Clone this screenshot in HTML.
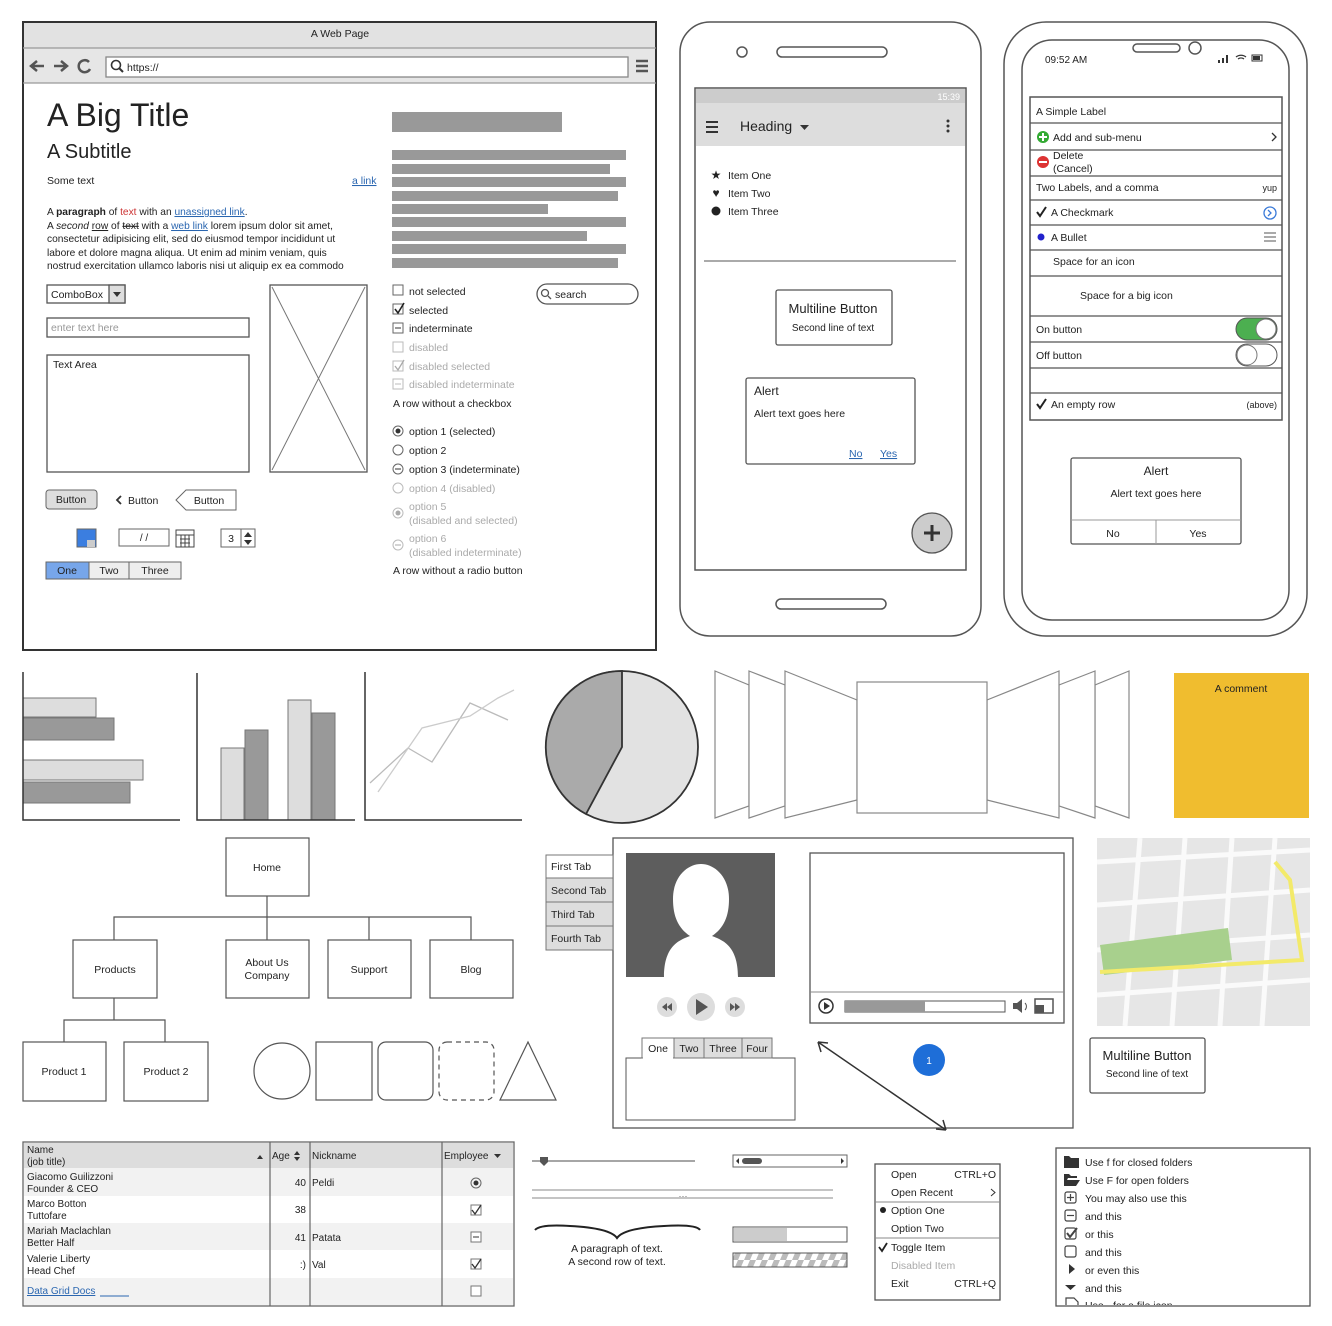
<!DOCTYPE html>
<html><head><meta charset="utf-8"><style>
html,body{margin:0;padding:0;background:#fff}
svg{display:block}
text{font-family:"Liberation Sans",sans-serif;fill:#222}
</style></head><body>
<svg width="1332" height="1326" viewBox="0 0 1332 1326" xmlns="http://www.w3.org/2000/svg" font-size="11">
<defs><clipPath id="tc"><rect x="1057" y="1149" width="252" height="156"/></clipPath>
<pattern id="st" width="12" height="14" patternUnits="userSpaceOnUse"><rect width="12" height="14" fill="#fff"/><path d="M0 14 L6 0 L12 0 L6 14Z" fill="#bbb"/></pattern></defs>
<g fill="none" stroke="#444" stroke-width="1.3">
<rect x="23" y="22" width="633" height="628" fill="#fff" stroke="#333" stroke-width="2"/>
<rect x="24" y="23" width="631" height="25" fill="#e2e2e2" stroke="none"/>
<rect x="24" y="48" width="631" height="35" fill="#e6e6e6" stroke="none"/>
<line x1="23" y1="48" x2="656" y2="48" stroke="#999"/>
<line x1="23" y1="83" x2="656" y2="83" stroke="#999"/>
<rect x="106" y="57" width="522" height="20" fill="#fff" stroke="#888"/>
<circle cx="116" cy="65" r="4.5" stroke="#333" stroke-width="1.6"/><line x1="119" y1="68" x2="123" y2="72" stroke="#333" stroke-width="2"/>
<path d="M44 66 H32 M37 61 L31 66 L37 71" stroke="#555" stroke-width="2.5"/>
<path d="M54 66 H66 M61 61 L67 66 L61 71" stroke="#555" stroke-width="2.5"/>
<path d="M89 62 A6 6 0 1 0 90 69" stroke="#555" stroke-width="2.5"/>
<path d="M636 61 H648 M636 66 H648 M636 71 H648" stroke="#555" stroke-width="2.5"/>
</g>
<text x="340" y="37" text-anchor="middle" font-size="10.5">A Web Page</text>
<text x="127" y="71" font-size="10.5">https://</text>
<text x="47" y="126" font-size="32">A Big Title</text>
<text x="47" y="158" font-size="20">A Subtitle</text>
<text x="47" y="184" font-size="10.5">Some text</text>
<text x="352" y="184" font-size="10.5" text-decoration="underline" style="fill:#2a66b0">a link</text>
<g font-size="10.2">
<text x="47" y="215">A <tspan font-weight="bold">paragraph</tspan> of <tspan style="fill:#c33">text</tspan> with an <tspan style="fill:#2a66b0" text-decoration="underline">unassigned link</tspan>.</text>
<text x="47" y="229">A <tspan font-style="italic">second</tspan> <tspan text-decoration="underline">row</tspan> of <tspan text-decoration="line-through">text</tspan> with a <tspan style="fill:#2a66b0" text-decoration="underline">web link</tspan> lorem ipsum dolor sit amet,</text>
<text x="47" y="242">consectetur adipisicing elit, sed do eiusmod tempor incididunt ut</text>
<text x="47" y="256">labore et dolore magna aliqua. Ut enim ad minim veniam, quis</text>
<text x="47" y="269">nostrud exercitation ullamco laboris nisi ut aliquip ex ea commodo</text>
</g>
<g fill="#999">
<rect x="392" y="112" width="170" height="20"/>
<rect x="392" y="150" width="234" height="10"/><rect x="392" y="164" width="218" height="10"/>
<rect x="392" y="177" width="234" height="10"/><rect x="392" y="191" width="226" height="10"/>
<rect x="392" y="204" width="156" height="10"/><rect x="392" y="217" width="234" height="10"/>
<rect x="392" y="231" width="195" height="10"/><rect x="392" y="244" width="234" height="10"/>
<rect x="392" y="258" width="226" height="10"/>
</g>
<g fill="none" stroke="#555" stroke-width="1.3">
<rect x="47" y="285" width="78" height="18" fill="#fff"/><rect x="109" y="285" width="16" height="18" fill="#ddd"/>
<rect x="47" y="318" width="202" height="19"/>
<rect x="47" y="355" width="202" height="117"/>
<rect x="270" y="285" width="97" height="187"/>
<path d="M272 287 L365 470 M365 287 L272 470" stroke="#777" stroke-width="1"/>
<rect x="537" y="284" width="101" height="20" rx="10"/>
<circle cx="545" cy="293" r="3.5"/><line x1="548" y1="296" x2="551" y2="299"/>
</g>
<path d="M113 292 h8 l-4 5z" fill="#333"/>
<text x="51" y="298" font-size="10.5">ComboBox</text>
<text x="51" y="331" font-size="10.5" style="fill:#999">enter text here</text>
<text x="53" y="368" font-size="10.5">Text Area</text>
<text x="555" y="298" font-size="10.5">search</text>
<g fill="#fff" stroke="#666" stroke-width="1">
<rect x="393" y="285" width="10" height="10"/><rect x="393" y="304" width="10" height="10"/><rect x="393" y="323" width="10" height="10"/>
<rect x="393" y="342" width="10" height="10" stroke="#bbb"/><rect x="393" y="361" width="10" height="10" stroke="#bbb"/><rect x="393" y="379" width="10" height="10" stroke="#bbb"/>
</g>
<path d="M395 309 l3 4 l6 -10" fill="none" stroke="#222" stroke-width="1.6"/>
<path d="M395 366 l3 4 l6 -10" fill="none" stroke="#aaa" stroke-width="1.3"/>
<line x1="395" y1="328" x2="401" y2="328" stroke="#333"/><line x1="395" y1="384" x2="401" y2="384" stroke="#bbb"/>
<g font-size="10.5">
<text x="409" y="295">not selected</text><text x="409" y="314">selected</text><text x="409" y="332">indeterminate</text>
<text x="409" y="351" style="fill:#aaa">disabled</text><text x="409" y="370" style="fill:#aaa">disabled selected</text><text x="409" y="388" style="fill:#aaa">disabled indeterminate</text>
<text x="393" y="407">A row without a checkbox</text>
<text x="409" y="435">option 1 (selected)</text><text x="409" y="454">option 2</text><text x="409" y="473">option 3 (indeterminate)</text>
<text x="409" y="492" style="fill:#aaa">option 4 (disabled)</text>
<text x="409" y="510" style="fill:#aaa">option 5</text><text x="409" y="524" style="fill:#aaa">(disabled and selected)</text>
<text x="409" y="542" style="fill:#aaa">option 6</text><text x="409" y="556" style="fill:#aaa">(disabled indeterminate)</text>
<text x="393" y="574">A row without a radio button</text>
</g>
<g fill="#fff" stroke="#666">
<circle cx="398" cy="431" r="5"/><circle cx="398" cy="450" r="5"/><circle cx="398" cy="469" r="5"/>
<circle cx="398" cy="488" r="5" stroke="#bbb"/><circle cx="398" cy="513" r="5" stroke="#bbb"/><circle cx="398" cy="545" r="5" stroke="#bbb"/>
</g>
<circle cx="398" cy="431" r="2.5" fill="#333"/><circle cx="398" cy="513" r="2.5" fill="#aaa"/>
<line x1="395" y1="469" x2="401" y2="469" stroke="#333"/><line x1="395" y1="545" x2="401" y2="545" stroke="#aaa"/>
<rect x="46" y="490" width="51" height="19" rx="3" fill="#ddd" stroke="#666"/>
<text x="71" y="503" text-anchor="middle" font-size="10.5">Button</text>
<path d="M121 496 l-4 4 l4 4" fill="none" stroke="#333" stroke-width="1.8"/>
<text x="128" y="504" font-size="10.5">Button</text>
<path d="M186 490 H236 V510 H186 L176 500 Z" fill="#fff" stroke="#666"/>
<text x="209" y="504" text-anchor="middle" font-size="10.5">Button</text>
<rect x="77" y="529" width="19" height="18" fill="#3b7ee0" stroke="#666"/><path d="M87 540 h8 v7 h-8z" fill="#ccc"/>
<rect x="119" y="529" width="50" height="17" fill="#fff" stroke="#666"/><text x="144" y="541" text-anchor="middle" font-size="10">/ /</text>
<g stroke="#444" fill="none"><rect x="176" y="530" width="18" height="17"/><path d="M176 535 h18 M180 539 h10 M180 543 h10 M181 535 v12 M185 535 v12 M189 535 v12"/></g>
<rect x="221" y="529" width="34" height="18" fill="#fff" stroke="#666"/><line x1="241" y1="529" x2="241" y2="547" stroke="#666"/>
<text x="231" y="542" text-anchor="middle" font-size="10.5">3</text><path d="M244 537 l4 -5 l4 5z M244 540 l4 5 l4 -5z" fill="#333"/>
<rect x="46" y="562" width="135" height="17" fill="#eee" stroke="#666"/>
<rect x="46" y="562" width="43" height="17" fill="#77a6ea" stroke="#666"/>
<line x1="129" y1="562" x2="129" y2="579" stroke="#666"/>
<text x="67" y="574" text-anchor="middle" font-size="10.5">One</text><text x="109" y="574" text-anchor="middle" font-size="10.5">Two</text><text x="155" y="574" text-anchor="middle" font-size="10.5">Three</text>

<g fill="none" stroke="#555" stroke-width="1.5">
<rect x="680" y="22" width="301" height="614" rx="30" fill="#fff"/>
<circle cx="742" cy="52" r="5"/><rect x="777" y="47" width="110" height="10" rx="5"/>
<rect x="695" y="88" width="271" height="482"/>
<rect x="776" y="599" width="110" height="10" rx="5"/>
</g>
<rect x="696" y="89" width="269" height="14" fill="#ccc"/>
<text x="960" y="100" text-anchor="end" font-size="9" style="fill:#fff">15:39</text>
<rect x="696" y="103" width="269" height="43" fill="#ddd"/>
<path d="M706 122 h12 M706 127 h12 M706 132 h12" stroke="#333" stroke-width="2"/>
<text x="740" y="131" font-size="14">Heading</text><path d="M800 125 h9 l-4.5 5z" fill="#333"/>
<circle cx="948" cy="121" r="1.5" fill="#333"/><circle cx="948" cy="126" r="1.5" fill="#333"/><circle cx="948" cy="131" r="1.5" fill="#333"/>
<text x="716" y="179" text-anchor="middle" font-size="12">★</text>
<text x="716" y="197" text-anchor="middle" font-size="12">♥</text>
<circle cx="716" cy="211" r="4.5" fill="#222"/>
<text x="728" y="179" font-size="10.5">Item One</text><text x="728" y="197" font-size="10.5">Item Two</text><text x="728" y="215" font-size="10.5">Item Three</text>
<line x1="704" y1="261" x2="956" y2="261" stroke="#555"/>
<rect x="776" y="290" width="116" height="55" rx="2" fill="#fff" stroke="#555" stroke-width="1.3"/>
<text x="833" y="313" text-anchor="middle" font-size="13">Multiline Button</text>
<text x="833" y="331" text-anchor="middle" font-size="10">Second line of text</text>
<rect x="746" y="378" width="169" height="86" rx="2" fill="#fff" stroke="#555" stroke-width="1.3"/>
<text x="754" y="395" font-size="12">Alert</text><text x="754" y="417" font-size="10.5">Alert text goes here</text>
<text x="849" y="457" font-size="10.5" style="fill:#2a66b0" text-decoration="underline">No</text>
<text x="880" y="457" font-size="10.5" style="fill:#2a66b0" text-decoration="underline">Yes</text>
<circle cx="932" cy="533" r="20" fill="#ccc" stroke="#555" stroke-width="1.3"/>
<path d="M932 525 v16 M924 533 h16" stroke="#333" stroke-width="3"/>

<g fill="none" stroke="#555" stroke-width="1.5">
<rect x="1004" y="22" width="303" height="614" rx="42" fill="#fff"/>
<rect x="1022" y="40" width="267" height="580" rx="30"/>
<rect x="1133" y="44" width="47" height="8" rx="4"/><circle cx="1195" cy="48" r="6"/>
<rect x="1030" y="97" width="252" height="323"/>
</g>
<text x="1045" y="63" font-size="10">09:52 AM</text>
<path d="M1218 63 h2 v-3 h-2z M1222 63 h2 v-5 h-2z M1226 63 h2 v-8 h-2z" fill="#333"/>
<rect x="1252" y="55" width="10" height="6" fill="none" stroke="#333"/><rect x="1253" y="56" width="7" height="4" fill="#333"/>
<path d="M1236 57 a8 8 0 0 1 10 0 M1238 59 a5 5 0 0 1 6 0" fill="none" stroke="#333" stroke-width="1.3"/>
<g stroke="#555" stroke-width="1.2">
<line x1="1030" y1="123" x2="1282" y2="123"/><line x1="1030" y1="150" x2="1282" y2="150"/><line x1="1030" y1="176" x2="1282" y2="176"/>
<line x1="1030" y1="200" x2="1282" y2="200"/><line x1="1030" y1="225" x2="1282" y2="225"/><line x1="1030" y1="250" x2="1282" y2="250"/>
<line x1="1030" y1="276" x2="1282" y2="276"/><line x1="1030" y1="316" x2="1282" y2="316"/><line x1="1030" y1="342" x2="1282" y2="342"/>
<line x1="1030" y1="368" x2="1282" y2="368"/><line x1="1030" y1="393" x2="1282" y2="393"/>
</g>
<g font-size="10.5">
<text x="1036" y="115">A Simple Label</text>
<circle cx="1043" cy="137" r="6" fill="#3a3"/><path d="M1043 133 v8 M1039 137 h8" stroke="#fff" stroke-width="2"/>
<text x="1053" y="141">Add and sub-menu</text><path d="M1272 133 l4 4 l-4 4" fill="none" stroke="#333" stroke-width="1.3"/>
<circle cx="1043" cy="162" r="6" fill="#d33"/><path d="M1039 162 h8" stroke="#fff" stroke-width="2"/>
<text x="1053" y="159">Delete</text><text x="1053" y="172">(Cancel)</text>
<text x="1036" y="191">Two Labels, and a comma</text><text x="1277" y="191" text-anchor="end" font-size="9">yup</text>
<path d="M1037 212 l3 4 l6 -9" fill="none" stroke="#222" stroke-width="2"/><text x="1051" y="216">A Checkmark</text>
<circle cx="1270" cy="213" r="6" fill="none" stroke="#3a7ad8" stroke-width="1.3"/><path d="M1268 210 l3 3 l-3 3" fill="none" stroke="#3a7ad8" stroke-width="1.3"/>
<circle cx="1041" cy="237" r="3.5" fill="#22c"/><text x="1051" y="241">A Bullet</text>
<path d="M1264 233 h12 M1264 237 h12 M1264 241 h12" stroke="#777" stroke-width="1.3"/>
<text x="1053" y="265">Space for an icon</text>
<text x="1080" y="299">Space for a big icon</text>
<text x="1036" y="333">On button</text><text x="1036" y="359">Off button</text>
<path d="M1037 404 l3 4 l6 -9" fill="none" stroke="#222" stroke-width="2"/><text x="1051" y="408">An empty row</text>
<text x="1277" y="408" text-anchor="end" font-size="9">(above)</text>
</g>
<rect x="1236" y="318" width="41" height="22" rx="11" fill="#4caf50" stroke="#555"/><circle cx="1266" cy="329" r="10" fill="#fff" stroke="#777"/>
<rect x="1236" y="344" width="41" height="22" rx="11" fill="#fff" stroke="#555"/><circle cx="1247" cy="355" r="10" fill="#fff" stroke="#777"/>
<rect x="1071" y="458" width="170" height="86" rx="2" fill="#fff" stroke="#555" stroke-width="1.3"/>
<line x1="1071" y1="520" x2="1241" y2="520" stroke="#999"/><line x1="1156" y1="520" x2="1156" y2="544" stroke="#999"/>
<text x="1156" y="475" text-anchor="middle" font-size="12">Alert</text>
<text x="1156" y="497" text-anchor="middle" font-size="10.5">Alert text goes here</text>
<text x="1113" y="537" text-anchor="middle" font-size="10.5">No</text><text x="1198" y="537" text-anchor="middle" font-size="10.5">Yes</text>

<rect x="23" y="698" width="73" height="19" fill="#ddd" stroke="#777"/>
<rect x="23" y="718" width="91" height="22" fill="#999" stroke="#777"/>
<rect x="23" y="760" width="120" height="20" fill="#ddd" stroke="#777"/>
<rect x="23" y="782" width="107" height="21" fill="#999" stroke="#777"/>
<path d="M23 672 V820 H180" fill="none" stroke="#333" stroke-width="1.5"/>
<rect x="221" y="748" width="23" height="72" fill="#ddd" stroke="#777"/>
<rect x="245" y="730" width="23" height="90" fill="#999" stroke="#777"/>
<rect x="288" y="700" width="23" height="120" fill="#ddd" stroke="#777"/>
<rect x="312" y="713" width="23" height="107" fill="#999" stroke="#777"/>
<path d="M197 673 V820 H355" fill="none" stroke="#333" stroke-width="1.5"/>
<polyline points="370,783 408,748 432,762 470,703 508,720" fill="none" stroke="#bbb" stroke-width="1.3"/>
<polyline points="378,792 422,728 470,716 498,698 514,690" fill="none" stroke="#ccc" stroke-width="1.3"/>
<path d="M365 672 V820 H522" fill="none" stroke="#333" stroke-width="1.5"/>
<circle cx="622" cy="747" r="76" fill="#e2e2e2" stroke="#333" stroke-width="1.8"/>
<path d="M622 747 L622 671 A76 76 0 0 0 586 814 Z" fill="#aaa" stroke="#333" stroke-width="1.8"/>
<g fill="#fff" stroke="#888" stroke-width="1.2">
<polygon points="715,671 749,685 749,806 715,818"/>
<polygon points="749,671 785,685 785,806 749,818"/>
<polygon points="785,671 857,700 857,800 785,818"/>
<polygon points="1129,671 1095,685 1095,806 1129,818"/>
<polygon points="1095,671 1059,685 1059,806 1095,818"/>
<polygon points="1059,671 987,700 987,800 1059,818"/>
<rect x="857" y="682" width="130" height="131"/>
</g>
<rect x="1174" y="673" width="135" height="145" fill="#f0bd2f"/>
<text x="1241" y="692" text-anchor="middle" font-size="10.5">A comment</text>

<g fill="none" stroke="#555" stroke-width="1.2">
<path d="M267 896 V917 M114 940 V917 H471 V940 M267 917 V940 M369 917 V940 M114 998 V1020 M64 1042 V1020 H165 V1042"/>
<rect x="226" y="838" width="83" height="58" fill="#fff"/>
<rect x="73" y="940" width="84" height="58" fill="#fff"/><rect x="226" y="940" width="83" height="58" fill="#fff"/>
<rect x="328" y="940" width="83" height="58" fill="#fff"/><rect x="430" y="940" width="83" height="58" fill="#fff"/>
<rect x="23" y="1042" width="83" height="59" fill="#fff"/><rect x="124" y="1042" width="84" height="59" fill="#fff"/>
<circle cx="282" cy="1071" r="28"/><rect x="316" y="1042" width="56" height="58"/>
<rect x="378" y="1042" width="55" height="58" rx="8"/><rect x="439" y="1042" width="55" height="58" rx="8" stroke-dasharray="5 4"/>
<polygon points="528,1042 500,1100 556,1100"/>
</g>
<g font-size="10.5" text-anchor="middle">
<text x="267" y="871">Home</text><text x="115" y="973">Products</text>
<text x="267" y="966">About Us</text><text x="267" y="979">Company</text>
<text x="369" y="973">Support</text><text x="471" y="973">Blog</text>
<text x="64" y="1075">Product 1</text><text x="166" y="1075">Product 2</text>
</g>

<rect x="613" y="838" width="460" height="290" fill="#fff" stroke="#555" stroke-width="1.3"/>
<g stroke="#777" stroke-width="1">
<rect x="546" y="855" width="67" height="23" fill="#fff"/>
<rect x="546" y="878" width="67" height="24" fill="#ddd"/><rect x="546" y="902" width="67" height="24" fill="#ddd"/><rect x="546" y="926" width="67" height="24" fill="#ddd"/>
</g>
<g font-size="10.5"><text x="551" y="870">First Tab</text><text x="551" y="894">Second Tab</text><text x="551" y="918">Third Tab</text><text x="551" y="942">Fourth Tab</text></g>
<rect x="626" y="853" width="149" height="124" fill="#5d5d5d"/>
<path d="M664 977 C664 945 680 940 690 936 C678 928 673 916 673 899 C673 876 688 864 701 864 C714 864 729 876 729 899 C729 916 724 928 712 936 C722 940 738 945 738 977Z" fill="#fff"/>
<circle cx="667" cy="1007" r="10" fill="#ddd"/><circle cx="701" cy="1007" r="14" fill="#ddd"/><circle cx="735" cy="1007" r="10" fill="#ddd"/>
<path d="M696 999 v16 l12 -8z" fill="#555"/>
<path d="M667 1003 l-5 4 l5 4z M672 1003 l-5 4 l5 4z M735 1003 l5 4 l-5 4z M730 1003 l5 4 l-5 4z" fill="#555"/>
<rect x="810" y="853" width="254" height="170" fill="#fff" stroke="#555" stroke-width="1.3"/>
<line x1="810" y1="992" x2="1064" y2="992" stroke="#888"/>
<circle cx="826" cy="1006" r="7" fill="#fff" stroke="#333" stroke-width="1.5"/><path d="M824 1002 v8 l6 -4z" fill="#333"/>
<rect x="845" y="1001" width="160" height="11" fill="#fff" stroke="#555"/><rect x="845" y="1001" width="80" height="11" fill="#999"/>
<path d="M1013 1003 h4 l5 -4 v14 l-5 -4 h-4z" fill="#555"/><path d="M1025 1003 a5 5 0 0 1 0 7" fill="none" stroke="#555"/>
<rect x="1035" y="999" width="18" height="14" fill="#fff" stroke="#555" stroke-width="1.5"/><rect x="1035" y="1005" width="9" height="8" fill="#555"/>
<rect x="626" y="1058" width="169" height="62" fill="#fff" stroke="#555"/>
<g stroke="#777"><rect x="642" y="1038" width="32" height="20" fill="#fff"/><rect x="674" y="1038" width="30" height="20" fill="#ddd"/><rect x="704" y="1038" width="38" height="20" fill="#ddd"/><rect x="742" y="1038" width="30" height="20" fill="#ddd"/></g>
<line x1="643" y1="1058" x2="673" y2="1058" stroke="#fff" stroke-width="2"/>
<g font-size="10.5" text-anchor="middle"><text x="658" y="1052">One</text><text x="689" y="1052">Two</text><text x="723" y="1052">Three</text><text x="757" y="1052">Four</text></g>
<path d="M818 1042 L946 1130 M818 1042 l3 10 M818 1042 l10 1 M946 1130 l-10 -1 M946 1130 l-3 -10" stroke="#333" stroke-width="1.5" fill="none"/>
<circle cx="929" cy="1060" r="16" fill="#1e6ed8"/><text x="929" y="1064" text-anchor="middle" font-size="10" style="fill:#fff">1</text>
<rect x="1097" y="838" width="213" height="188" fill="#e6e6e6"/>
<g stroke="#fafafa" stroke-width="5" fill="none">
<path d="M1097 862 L1310 850 M1097 905 L1310 890 M1097 950 L1310 935 M1097 995 L1310 980 M1140 838 L1125 1026 M1185 838 L1172 1026 M1232 838 L1220 1026 M1275 838 L1262 1026"/>
</g>
<path d="M1100 945 L1228 928 L1232 960 L1104 975Z" fill="#a8d08d"/>
<path d="M1275 862 L1290 880 L1302 960 L1100 972" stroke="#f3ea6a" stroke-width="4" fill="none"/>
<rect x="1090" y="1038" width="115" height="55" rx="2" fill="#fff" stroke="#555" stroke-width="1.3"/>
<text x="1147" y="1060" text-anchor="middle" font-size="13">Multiline Button</text>
<text x="1147" y="1077" text-anchor="middle" font-size="10">Second line of text</text>

<rect x="23" y="1142" width="491" height="164" fill="#fff" stroke="#666" stroke-width="1.3"/>
<rect x="24" y="1143" width="489" height="25" fill="#ddd"/>
<rect x="24" y="1168" width="489" height="28" fill="#f2f2f2"/><rect x="24" y="1223" width="489" height="27" fill="#f2f2f2"/><rect x="24" y="1278" width="489" height="27" fill="#f2f2f2"/>
<g stroke="#666" stroke-width="1.2"><line x1="270" y1="1142" x2="270" y2="1306"/><line x1="310" y1="1142" x2="310" y2="1306"/><line x1="442" y1="1142" x2="442" y2="1306"/></g>
<g font-size="10">
<text x="27" y="1153">Name</text><text x="27" y="1165">(job title)</text><path d="M257 1159 l3 -4 l3 4z" fill="#333"/>
<text x="272" y="1159">Age</text><path d="M294 1155 l3 -4 l3 4z M294 1157 l3 4 l3 -4z" fill="#333"/>
<text x="312" y="1159">Nickname</text><text x="444" y="1159">Employee</text><path d="M494 1154 h7 l-3.5 4z" fill="#333"/>
<text x="27" y="1180">Giacomo Guilizzoni</text><text x="27" y="1192">Founder &amp; CEO</text>
<text x="27" y="1207">Marco Botton</text><text x="27" y="1219">Tuttofare</text>
<text x="27" y="1234">Mariah Maclachlan</text><text x="27" y="1246">Better Half</text>
<text x="27" y="1262">Valerie Liberty</text><text x="27" y="1274">Head Chef</text>
<text x="27" y="1294" style="fill:#2a66b0" text-decoration="underline">Data Grid Docs</text>
<line x1="100" y1="1296" x2="129" y2="1296" stroke="#2a66b0"/>
<text x="306" y="1186" text-anchor="end">40</text><text x="306" y="1213" text-anchor="end">38</text><text x="306" y="1241" text-anchor="end">41</text><text x="306" y="1268" text-anchor="end">:)</text>
<text x="312" y="1186">Peldi</text><text x="312" y="1241">Patata</text><text x="312" y="1268">Val</text>
</g>
<circle cx="476" cy="1183" r="5" fill="none" stroke="#666"/><circle cx="476" cy="1183" r="2.5" fill="#333"/>
<g fill="#fff" stroke="#777"><rect x="471" y="1205" width="10" height="10"/><rect x="471" y="1232" width="10" height="10"/><rect x="471" y="1259" width="10" height="10"/><rect x="471" y="1286" width="10" height="10"/></g>
<path d="M472 1210 l3 4 l6 -9 M472 1264 l3 4 l6 -9" fill="none" stroke="#333" stroke-width="1.3"/><line x1="473" y1="1237" x2="479" y2="1237" stroke="#333"/>

<line x1="532" y1="1161" x2="695" y2="1161" stroke="#888" stroke-width="1.5"/>
<path d="M540 1157 h8 v5 l-4 4 l-4 -4z" fill="#555"/>
<rect x="733" y="1155" width="114" height="12" fill="#fff" stroke="#666"/>
<rect x="742" y="1158" width="20" height="6" rx="3" fill="#555"/>
<path d="M739 1158 l-3 3 l3 3z M841 1158 l3 3 l-3 3z" fill="#333"/>
<line x1="532" y1="1190" x2="833" y2="1190" stroke="#888"/><line x1="532" y1="1198" x2="833" y2="1198" stroke="#888"/>
<text x="683" y="1199" text-anchor="middle" font-size="9" style="fill:#666">···</text>
<path d="M535 1230 Q540 1224 570 1226 Q610 1228 617 1238 Q624 1228 664 1226 Q696 1224 700 1230" fill="none" stroke="#222" stroke-width="2"/>
<text x="617" y="1252" text-anchor="middle" font-size="10.5">A paragraph of text.</text>
<text x="617" y="1265" text-anchor="middle" font-size="10.5">A second row of text.</text>
<rect x="733" y="1227" width="114" height="15" fill="#fff" stroke="#555"/><rect x="734" y="1228" width="53" height="13" fill="#ccc"/>
<rect x="733" y="1253" width="114" height="14" fill="url(#st)" stroke="#555"/>
<rect x="875" y="1164" width="125" height="136" fill="#fff" stroke="#555" stroke-width="1.3"/>
<line x1="875" y1="1202" x2="1000" y2="1202" stroke="#888"/><line x1="875" y1="1238" x2="1000" y2="1238" stroke="#888"/>
<g font-size="10.5">
<text x="891" y="1178">Open</text><text x="996" y="1178" text-anchor="end">CTRL+O</text>
<text x="891" y="1196">Open Recent</text><path d="M991 1189 l4 3.5 l-4 3.5" fill="none" stroke="#333"/>
<circle cx="883" cy="1210" r="3" fill="#222"/><text x="891" y="1214">Option One</text>
<text x="891" y="1232">Option Two</text>
<path d="M879 1247 l3 4 l5 -8" fill="none" stroke="#222" stroke-width="1.8"/><text x="891" y="1251">Toggle Item</text>
<text x="891" y="1269" style="fill:#aaa">Disabled Item</text>
<text x="891" y="1287">Exit</text><text x="996" y="1287" text-anchor="end">CTRL+Q</text>
</g>
<rect x="1056" y="1148" width="254" height="158" fill="#fff" stroke="#555" stroke-width="1.3"/>
<g clip-path="url(#tc)">
<path d="M1064 1156 h5 l2 2 h8 v10 h-15z" fill="#333"/>
<path d="M1064 1174 h5 l2 2 h6 v2 h-9 l-4 8z M1066 1180 h14 l-4 6 h-12z" fill="#333"/>
<g fill="none" stroke="#444" stroke-width="1.2">
<rect x="1065" y="1192" width="11" height="11" rx="2"/><path d="M1070.5 1194 v7 M1067 1197.5 h7"/>
<rect x="1065" y="1210" width="11" height="11" rx="2"/><path d="M1067 1215.5 h7"/>
<rect x="1065" y="1228" width="11" height="11" rx="2"/><path d="M1067 1233 l3 4 l7 -9" stroke-width="2"/>
<rect x="1065" y="1246" width="11" height="11" rx="2"/>
<path d="M1066 1298 h8 l4 4 v10 h-12z"/>
</g>
<path d="M1069 1264 l6 5 l-6 5z M1065 1285 h11 l-5.5 5z" fill="#333"/>
<g font-size="10.5">
<text x="1085" y="1166">Use f for closed folders</text><text x="1085" y="1184">Use F for open folders</text>
<text x="1085" y="1202">You may also use this</text><text x="1085" y="1220">and this</text>
<text x="1085" y="1238">or this</text><text x="1085" y="1256">and this</text>
<text x="1085" y="1274">or even this</text><text x="1085" y="1292">and this</text>
<text x="1085" y="1309">Use - for a file icon</text>
</g>
</g>
</svg>
</body></html>
